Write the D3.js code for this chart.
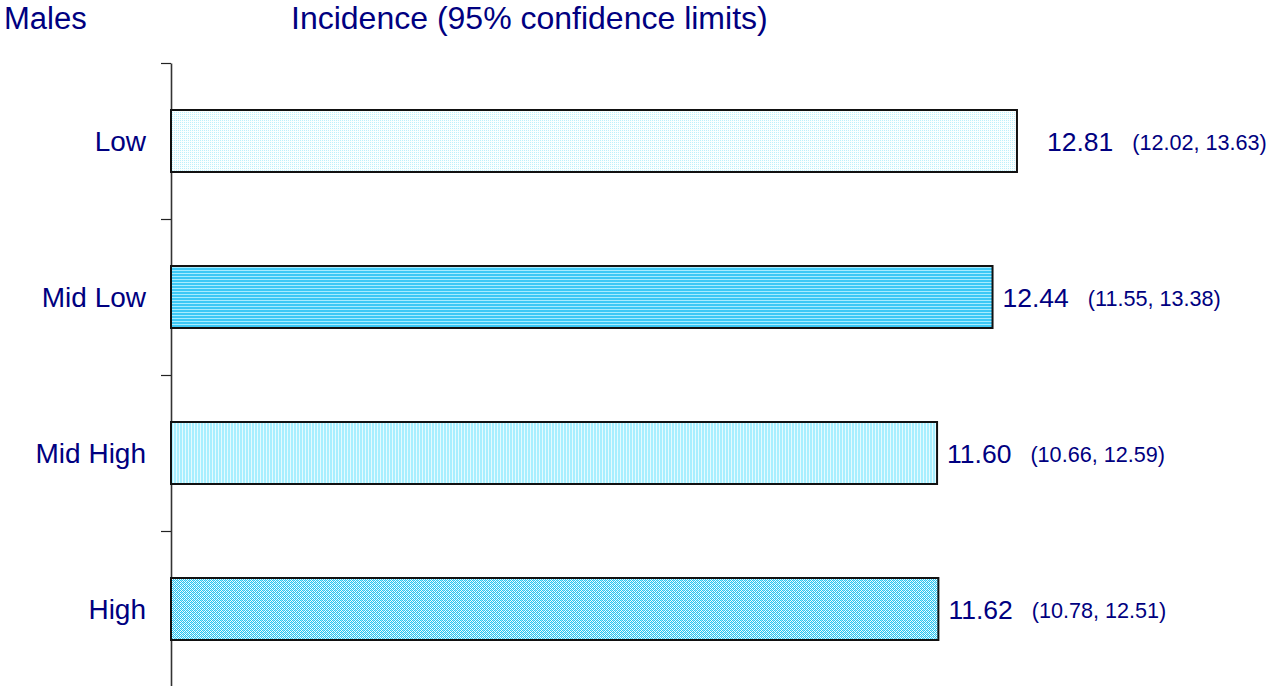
<!DOCTYPE html>
<html>
<head>
<meta charset="utf-8">
<script src="https://cdn.jsdelivr.net/npm/d3@7"></script>
<style>
  html, body { margin: 0; padding: 0; background: #fff; }
  svg { display: block; font-family: "Liberation Sans", Arial, sans-serif; }
</style>
</head>
<body>
<svg id="chart" width="1271" height="686"></svg>
<script>
const categories = ["Low", "Mid Low", "Mid High", "High"];
const values = [12.81, 12.44, 11.60, 11.62];
const lowerCI = [12.02, 11.55, 10.66, 10.78];
const upperCI = [13.63, 13.38, 12.59, 12.51];
const titleLeft = "Males";
const titleMain = "Incidence (95% confidence limits)";

const navy = "#000080";
const svg = d3.select("#chart");
const defs = svg.append("defs");

// Patterns
function pat(id, w, h, bg, rects) {
  const p = defs.append("pattern").attr("id", id).attr("patternUnits", "userSpaceOnUse")
    .attr("width", w).attr("height", h);
  p.append("rect").attr("width", w).attr("height", h).attr("fill", bg).attr("shape-rendering", "crispEdges");
  rects.forEach(r => p.append("rect").attr("x", r[0]).attr("y", r[1]).attr("width", r[2]).attr("height", r[3])
    .attr("fill", r[4]).attr("shape-rendering", "crispEdges"));
}
pat("p0", 2, 2, "#fbffff", [[0, 0, 1, 1, "#bdf0fb"]]);
pat("p1", 3, 3, "#3cc8f5", [[0, 0, 3, 1, "#a6ecff"]]);
pat("p2", 3, 3, "#e6fbff", [[0, 0, 2, 3, "#a8efff"]]);
pat("p3", 4, 4, "#f4fdff", [[0, 0, 1, 1, "#28c4f0"], [2, 0, 1, 1, "#28c4f0"], [1, 1, 1, 1, "#28c4f0"], [3, 1, 1, 1, "#28c4f0"],
  [0, 2, 1, 1, "#28c4f0"], [2, 2, 1, 1, "#28c4f0"], [1, 3, 1, 1, "#28c4f0"], [3, 3, 1, 1, "#28c4f0"], [1, 0, 1, 1, "#9be6fa"], [3, 2, 1, 1, "#9be6fa"]]);
const fills = ["url(#p0)", "url(#p1)", "url(#p2)", "url(#p3)"];

const x = d3.scaleLinear().domain([0, 16]).range([171, 171 + 66.04 * 16]);
const y = d3.scaleBand().domain(categories).range([63, 687]).paddingInner(0.6).paddingOuter(0.3);
const yb = d3.scaleLinear().domain([0, categories.length]).range([63, 687]);

// Titles
svg.append("text").attr("x", 4).attr("y", 29).attr("fill", navy).attr("font-size", 31).text(titleLeft);
svg.append("text").attr("x", 291).attr("y", 29).attr("fill", navy).attr("font-size", 32).text(titleMain);

// Axis
const axis = d3.axisLeft(yb).tickValues(d3.range(categories.length)).tickFormat("").tickSize(10).tickSizeOuter(0);
const ag = svg.append("g").attr("transform", `translate(${x(0)},0)`).call(axis);
ag.select(".domain").attr("stroke", "#333").attr("stroke-width", 1.6);
ag.selectAll(".tick line").attr("stroke", "#222").attr("stroke-width", 1.2);

// Bars
svg.selectAll("rect.bar").data(categories).join("rect").attr("class", "bar")
  .attr("x", x(0))
  .attr("y", d => Math.round(y(d)))
  .attr("width", (d, i) => x(values[i]) - x(0))
  .attr("height", Math.round(y.bandwidth()))
  .attr("fill", (d, i) => fills[i])
  .attr("stroke", "#111").attr("stroke-width", 2);

// Category labels
svg.selectAll("text.cat").data(categories).join("text").attr("class", "cat")
  .attr("x", 146).attr("y", d => y(d) + y.bandwidth() / 2 + 10)
  .attr("text-anchor", "end").attr("fill", navy).attr("font-size", 28)
  .text(d => d);

// Value labels
const labelGap = (i) => (values[i] === d3.max(values) ? 30 : 10);
const vl = svg.selectAll("text.val").data(categories).join("text").attr("class", "val")
  .attr("x", (d, i) => x(values[i]) + labelGap(i))
  .attr("y", d => y(d) + y.bandwidth() / 2 + 10)
  .attr("fill", navy);
vl.append("tspan").attr("font-size", 26.5).text((d, i) => values[i].toFixed(2));
vl.append("tspan").attr("font-size", 21.6).attr("dx", 19).attr("dy", -1)
  .text((d, i) => `(${lowerCI[i].toFixed(2)}, ${upperCI[i].toFixed(2)})`);
</script>
</body>
</html>
